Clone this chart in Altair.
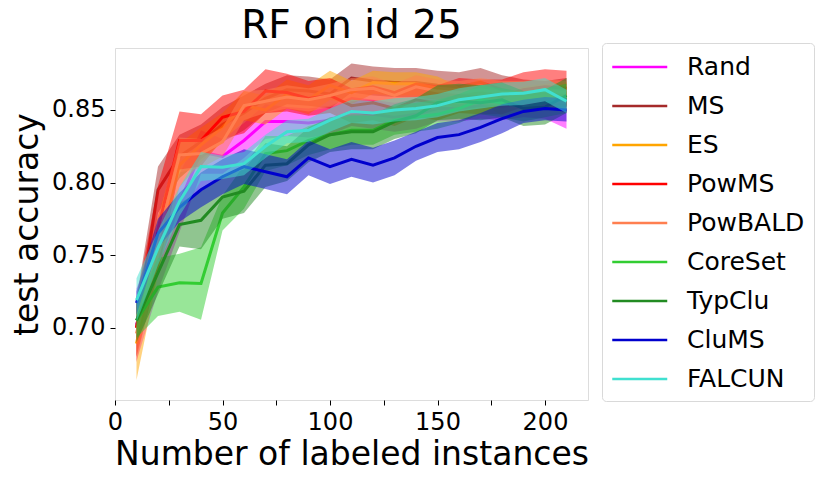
import altair as alt
import pandas as pd

x_vals = [10, 20, 30, 40, 50, 60, 70, 80, 90, 100, 110, 120, 130, 140, 150, 160, 170, 180, 190, 200, 210]

names = ["Rand", "MS", "ES", "PowMS", "PowBALD", "CoreSet", "TypClu", "CluMS", "FALCUN"]
colors = ["#FF00FF", "#A52A2A", "#FFA500", "#FF0000", "#FF7F50", "#32CD32", "#228B22", "#0000CD", "#40E0D0"]

rand_mean = [0.702, 0.745, 0.786, 0.821, 0.818, 0.829, 0.842, 0.842, 0.841, 0.843, 0.849, 0.847, 0.845, 0.847, 0.851, 0.851, 0.853, 0.852, 0.855, 0.854, 0.849]
rand_std = [0.025, 0.02, 0.02, 0.015, 0.012, 0.012, 0.012, 0.01, 0.01, 0.01, 0.01, 0.01, 0.01, 0.01, 0.009, 0.009, 0.009, 0.009, 0.01, 0.01, 0.012]

ms_mean = [0.700, 0.795, 0.818, 0.828, 0.840, 0.848, 0.858, 0.864, 0.863, 0.861, 0.872, 0.870, 0.869, 0.869, 0.867, 0.866, 0.869, 0.864, 0.861, 0.860, 0.862]
ms_std = [0.02, 0.016, 0.015, 0.012, 0.012, 0.012, 0.01, 0.01, 0.01, 0.01, 0.01, 0.01, 0.01, 0.01, 0.01, 0.01, 0.01, 0.01, 0.01, 0.01, 0.01]

es_mean = [0.689, 0.757, 0.812, 0.826, 0.838, 0.853, 0.850, 0.861, 0.857, 0.867, 0.862, 0.869, 0.868, 0.868, 0.865, 0.858, 0.863, 0.854, 0.858, 0.860, 0.861]
es_std = [0.025, 0.02, 0.015, 0.012, 0.01, 0.01, 0.01, 0.01, 0.01, 0.01, 0.008, 0.008, 0.008, 0.008, 0.008, 0.008, 0.008, 0.008, 0.008, 0.008, 0.008]

powms_mean = [0.700, 0.768, 0.829, 0.829, 0.845, 0.849, 0.863, 0.862, 0.858, 0.860, 0.853, 0.855, 0.851, 0.857, 0.855, 0.860, 0.859, 0.859, 0.864, 0.866, 0.865]
powms_std = [0.02, 0.03, 0.02, 0.018, 0.015, 0.015, 0.015, 0.013, 0.012, 0.012, 0.012, 0.012, 0.012, 0.012, 0.012, 0.012, 0.012, 0.012, 0.012, 0.012, 0.012]

powbald_mean = [0.696, 0.760, 0.819, 0.820, 0.828, 0.853, 0.856, 0.859, 0.857, 0.860, 0.864, 0.865, 0.860, 0.866, 0.863, 0.862, 0.864, 0.862, 0.862, 0.863, 0.862]
powbald_std = [0.02, 0.015, 0.012, 0.01, 0.01, 0.01, 0.008, 0.008, 0.008, 0.008, 0.008, 0.008, 0.008, 0.008, 0.008, 0.008, 0.008, 0.008, 0.008, 0.008, 0.008]

coreset_mean = [0.705, 0.728, 0.731, 0.7305, 0.779, 0.797, 0.820, 0.822, 0.829, 0.833, 0.836, 0.836, 0.843, 0.845, 0.847, 0.851, 0.857, 0.855, 0.852, 0.855, 0.858]
coreset_std = [0.012, 0.02, 0.02, 0.025, 0.012, 0.015, 0.012, 0.01, 0.01, 0.01, 0.01, 0.01, 0.01, 0.01, 0.01, 0.01, 0.01, 0.01, 0.01, 0.01, 0.01]

typclu_mean = [0.705, 0.738, 0.771, 0.774, 0.790, 0.794, 0.812, 0.813, 0.826, 0.833, 0.835, 0.835, 0.842, 0.846, 0.855, 0.856, 0.855, 0.857, 0.851, 0.852, 0.860]
typclu_std = [0.015, 0.015, 0.015, 0.02, 0.015, 0.015, 0.015, 0.012, 0.012, 0.012, 0.012, 0.012, 0.012, 0.012, 0.012, 0.012, 0.012, 0.012, 0.012, 0.012, 0.012]

clums_mean = [0.717, 0.765, 0.783, 0.795, 0.804, 0.811, 0.8075, 0.804, 0.817, 0.811, 0.816, 0.812, 0.817, 0.825, 0.831, 0.833, 0.838, 0.844, 0.849, 0.851, 0.850]
clums_std = [0.008, 0.01, 0.01, 0.012, 0.012, 0.012, 0.012, 0.012, 0.012, 0.012, 0.012, 0.012, 0.012, 0.01, 0.01, 0.01, 0.01, 0.01, 0.008, 0.008, 0.008]

falcun_mean = [0.719, 0.755, 0.787, 0.811, 0.8105, 0.813, 0.825, 0.835, 0.836, 0.843, 0.849, 0.848, 0.850, 0.851, 0.853, 0.857, 0.859, 0.861, 0.8615, 0.864, 0.856]
falcun_std = [0.015, 0.012, 0.01, 0.01, 0.008, 0.008, 0.008, 0.008, 0.008, 0.008, 0.008, 0.008, 0.008, 0.008, 0.008, 0.008, 0.008, 0.008, 0.008, 0.008, 0.008]

means = [rand_mean, ms_mean, es_mean, powms_mean, powbald_mean, coreset_mean, typclu_mean, clums_mean, falcun_mean]
stds = [rand_std, ms_std, es_std, powms_std, powbald_std, coreset_std, typclu_std, clums_std, falcun_std]

rows = []
for n, m, s in zip(names, means, stds):
    for xv, mv, sv in zip(x_vals, m, s):
        rows.append({"method": n, "x": xv, "mean": mv, "lo": mv - sv, "hi": mv + sv})
df = pd.DataFrame(rows)

FONT = "DejaVu Sans"
xscale = alt.Scale(domain=[0, 220], nice=False, zero=False)
yscale = alt.Scale(domain=[0.6502, 0.8927], nice=False, zero=False)
cscale = alt.Scale(domain=names, range=colors)

xaxis = alt.Axis(title="Number of labeled instances", values=[0, 25, 50, 75, 100, 125, 150, 175, 200],
                 labelExpr="datum.value % 50 == 0 ? datum.label : ''", grid=False, domain=False,
                 tickColor="black", tickSize=5, labelFontSize=24, labelFont=FONT, labelColor="black",
                 labelPadding=5, titleFontSize=33, titleFont=FONT, titleFontWeight="normal",
                 titleColor="black", titlePadding=4, labelFlush=False)
yaxis = alt.Axis(title="test accuracy", values=[0.70, 0.75, 0.80, 0.85], format=".2f", grid=False,
                 domain=False, tickColor="black", tickSize=5, labelFontSize=24, labelFont=FONT,
                 labelColor="black", labelPadding=5, titleFontSize=33, titleFont=FONT,
                 titleFontWeight="normal", titleColor="black", titlePadding=7)

legend = alt.Legend(title=None, orient="none", legendX=487, legendY=-5,
                    direction="vertical", symbolType="M-1,0H3",
                    symbolSize=756, symbolStrokeWidth=2.5,
                    labelFontSize=25, labelFont=FONT, labelColor="black",
                    labelOffset=46, rowPadding=11, padding=9,
                    strokeColor="#d9d9d9", fillColor="white", cornerRadius=4)

layers = []
for i, (n, c) in enumerate(zip(names, colors)):
    base = alt.Chart(df).transform_filter(alt.datum.method == n)
    band = base.mark_area(opacity=0.5, color=c).encode(
        x=alt.X("x:Q", scale=xscale, axis=xaxis),
        y=alt.Y("lo:Q", scale=yscale, axis=yaxis),
        y2="hi:Q",
    )
    line = base.mark_line(strokeWidth=3).encode(
        x=alt.X("x:Q", scale=xscale, axis=xaxis),
        y=alt.Y("mean:Q", scale=yscale, axis=yaxis),
        color=alt.Color("method:N", scale=cscale, sort=names, legend=legend),
    )
    layers.append(band)
    layers.append(line)

chart = alt.layer(*layers).properties(
    width=473, height=352,
    title=alt.TitleParams("RF on id 25", fontSize=39, font=FONT, fontWeight="normal", color="black",
                          offset=-3, frame="group"),
    autosize=alt.AutoSizeParams(type="none"),
    padding={"left": 107, "top": 40, "right": 235, "bottom": 74},
).configure_view(stroke="black", strokeWidth=1).configure(background="white")

chart.save("out.html", embed_options={"renderer": "svg", "actions": False})
